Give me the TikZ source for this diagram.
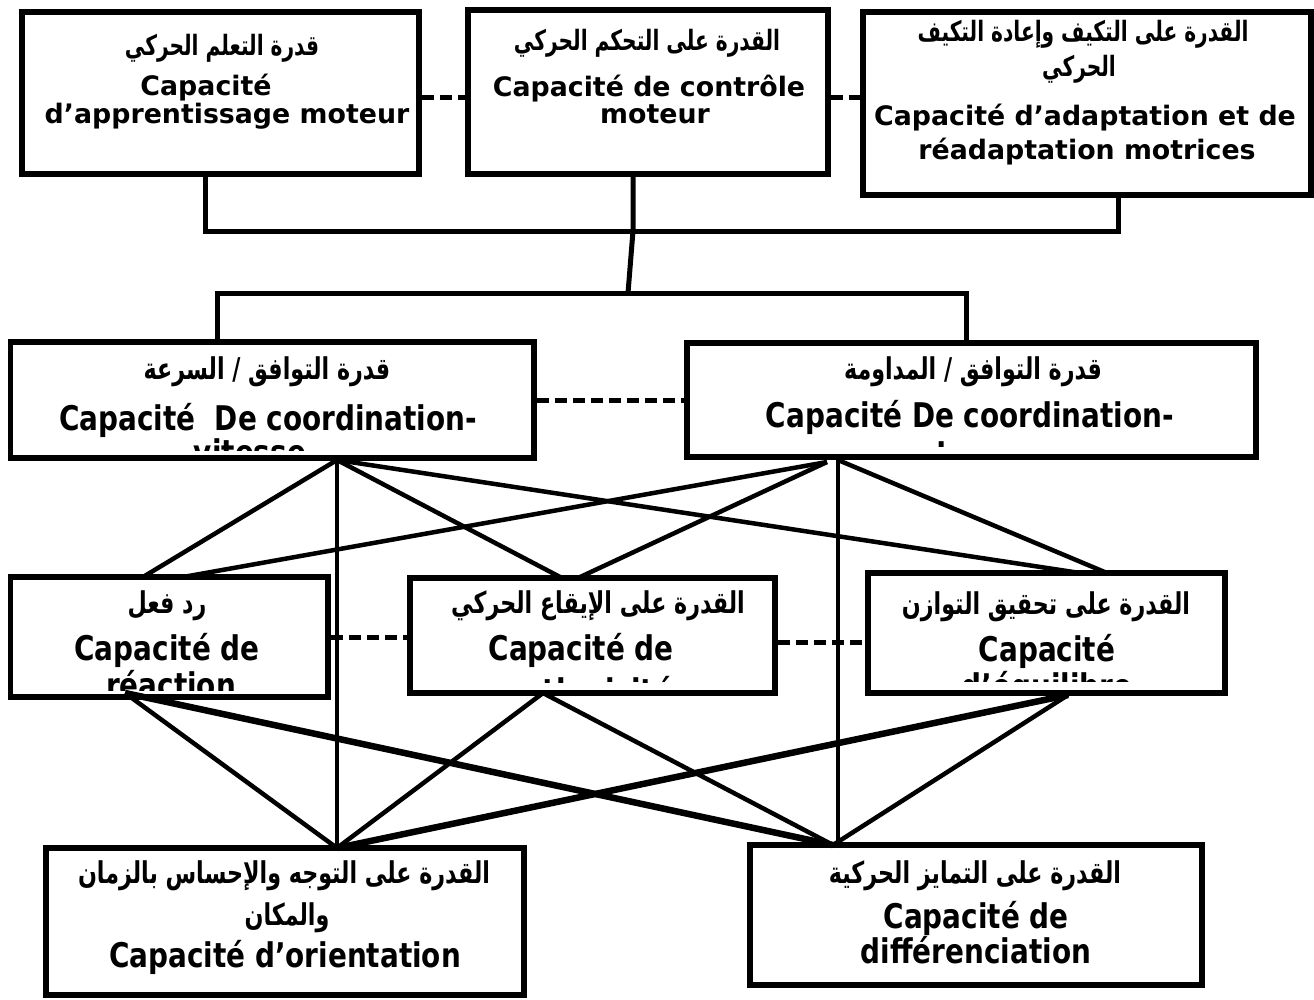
\documentclass[tikz,border=0pt]{standalone}
\usepackage{fontspec}
\TeXXeTstate=1
\newfontfamily\topfont{DejaVu Sans Bold}
\newfontfamily\condfont[FakeStretch=0.82]{DejaVu Sans Bold}
\newfontfamily\arfont[Script=Arabic,FakeStretch=0.72]{DejaVu Sans Bold}
\newfontfamily\arcondfont[Script=Arabic,FakeStretch=0.74]{DejaVu Sans Bold}
\tikzset{
  box/.style={draw, line width=5.5pt, fill=white, inner sep=0pt},
  conn/.style={line width=4.5pt},
  heavyconn/.style={line width=6.5pt},
  topconn/.style={line width=5pt},
  dashconn/.style={line width=5pt, dash pattern=on 12pt off 6pt},
  toptext/.style={anchor=base, inner sep=0pt, font=\fontsize{26.8}{30}\topfont},
  midtext/.style={anchor=base, inner sep=0pt, font=\fontsize{34}{38}\condfont},
  artop/.style={anchor=base, inner sep=0pt, font=\fontsize{28}{32}\arfont},
  armid/.style={anchor=base, inner sep=0pt, font=\fontsize{30}{34}\arcondfont},
}
\begin{document}
\begin{tikzpicture}[x=1pt,y=-1pt]
\useasboundingbox (0,0) rectangle (1314,999);
\fill[white] (0,0) rectangle (1314,999);

% ---------- boxes ----------
\node[box, minimum width=397pt, minimum height=162pt] (A) at (220.5,93) {};
\node[box, minimum width=360pt, minimum height=164pt] (B) at (648,92) {};
\node[box, minimum width=448pt, minimum height=183pt] (C) at (1087,103.5) {};
\node[box, minimum width=523.5pt, minimum height=116pt] (D) at (272.25,400) {};
\node[box, minimum width=569pt, minimum height=114pt] (E) at (971.5,400) {};
\node[box, minimum width=317.5pt, minimum height=120pt] (F) at (169.25,637) {};
\node[box, minimum width=365pt, minimum height=115pt] (G) at (592.5,635.5) {};
\node[box, minimum width=357pt, minimum height=120pt] (H) at (1046.5,633) {};
\node[box, minimum width=478pt, minimum height=147pt] (I) at (285,921.5) {};
\node[box, minimum width=452pt, minimum height=140pt] (J) at (976,915) {};

% ---------- texts ----------
\node[artop] (Aar) at (222,55) {\beginR قدرة التعلم الحركي\endR};
\node[toptext] (Afr1) at (206,95) {Capacité};
\node[toptext] (Afr2) at (227,123) {d’apprentissage moteur};

\node[artop] (Bar) at (647,50) {\beginR القدرة على التحكم الحركي\endR};
\node[toptext] (Bfr1) at (649,96) {Capacité de contrôle};
\node[toptext] (Bfr2) at (655,123) {moteur};

\node[artop] (Car1) at (1083,41) {\beginR القدرة على التكيف وإعادة التكيف\endR};
\node[artop] (Car2) at (1079,76) {\beginR الحركي\endR};
\node[toptext] (Cfr1) at (1085,125) {Capacité d’adaptation et de};
\node[toptext] (Cfr2) at (1087,159) {réadaptation motrices};

\begin{scope}
\clip (10.5,342) rectangle (534,450);
\node[armid] (Dar) at (267,379) {\beginR قدرة التوافق / السرعة\endR};
\node[midtext] (Dfr1) at (268,430) {Capacité\ \ De coordination-};
\node[midtext] (Dfr2) at (250,464) {vitesse};
\end{scope}

\begin{scope}
\clip (687,343) rectangle (1256,446);
\node[armid] (Ear) at (973,379) {\beginR قدرة التوافق / المداومة\endR};
\node[midtext] (Efr1) at (970,427) {Capacité De coordination-};
\node[midtext] (Efr2) at (971,467) {endurance};
\end{scope}

\begin{scope}
\clip (10.5,577) rectangle (328,690);
\node[armid] (Far) at (167,613) {\beginR رد فعل\endR};
\node[midtext] (Ffr1) at (167,660) {Capacité de};
\node[midtext] (Ffr2) at (171,697) {réaction};
\end{scope}

\begin{scope}
\clip (410,578) rectangle (775,682);
\node[armid] (Gar) at (598,613) {\beginR القدرة على الإيقاع الحركي\endR};
\node[midtext] (Gfr1) at (581,660) {Capacité de};
\node[midtext] (Gfr2) at (592,703) {rythmicité};
\end{scope}

\begin{scope}
\clip (868,573) rectangle (1225,681);
\node[armid] (Har) at (1046,614) {\beginR القدرة على تحقيق التوازن\endR};
\node[midtext] (Hfr1) at (1047,661) {Capacité};
\node[midtext] (Hfr2) at (1047,698) {d’équilibre};
\end{scope}

\node[armid] (Iar1) at (284,883) {\beginR القدرة على التوجه والإحساس بالزمان\endR};
\node[armid] (Iar2) at (287,925) {\beginR والمكان\endR};
\node[midtext] (Ifr) at (285,967) {Capacité d’orientation};

\node[armid] (Jar) at (975,883) {\beginR القدرة على التمايز الحركية\endR};
\node[midtext] (Jfr1) at (976,928) {Capacité de};
\node[midtext] (Jfr2) at (976,963) {différenciation};

% ---------- connection points ----------
\coordinate (Abot) at (205,174);
\coordinate (Bbot) at (633,174);
\coordinate (Cbot) at (1118,195);
\coordinate (Tjoin) at (633,231);
\coordinate (Mjoin) at (628,293);
\coordinate (Dtop) at (217,342);
\coordinate (Etop) at (966,343);

\coordinate (Dbot) at (337,460);
\coordinate (Ebot) at (827,462);
\coordinate (Ebot2) at (838,460);
\coordinate (FtopD) at (143,577);
\coordinate (FtopE) at (183,577);
\coordinate (GtopD) at (562,578);
\coordinate (GtopE) at (578,578);
\coordinate (HtopD) at (1080,573);
\coordinate (HtopE) at (1107,573);

\coordinate (Fbot) at (125,693);
\coordinate (Gbot) at (543,693);
\coordinate (Hbot) at (1068,695);
\coordinate (Itop) at (337,848);
\coordinate (Jtop) at (833,845);
\coordinate (JtopE) at (838,845);

% ---------- top connectors ----------
\draw[topconn] (Abot) |- (Tjoin) -| (Cbot);
\draw[topconn] (Bbot) -- (Tjoin) -- (Mjoin);
\draw[topconn] (Dtop) |- (Mjoin) -| (Etop);

% ---------- dashed links ----------
\draw[dashconn] (A.east |- 0,97) -- (B.west |- 0,97);
\draw[dashconn] (B.east |- 0,97) -- (C.west |- 0,97);
\draw[dashconn] (D.east) -- (E.west);
\draw[dashconn] (F.east |- 0,637) -- (G.west |- 0,637);
\draw[dashconn] (G.east |- 0,642) -- (H.west |- 0,642);

% ---------- middle to third row ----------
\draw[conn] (Dbot) -- (FtopD);
\draw[conn] (Dbot) -- (GtopD);
\draw[conn] (Dbot) -- (HtopD);
\draw[conn] (Dbot) -- (Itop);
\draw[conn] (Ebot) -- (FtopE);
\draw[conn] (Ebot) -- (GtopE);
\draw[conn] (Ebot2) -- (HtopE);
\draw[conn] (Ebot2) -- (JtopE);

% ---------- third row to bottom ----------
\draw[conn] (Fbot) -- (Itop);
\draw[heavyconn] (Fbot) -- (Jtop);
\draw[conn] (Gbot) -- (Itop);
\draw[conn] (Gbot) -- (Jtop);
\draw[heavyconn] (Hbot) -- (Itop);
\draw[conn] (Hbot) -- (Jtop);
\end{tikzpicture}
\end{document}
